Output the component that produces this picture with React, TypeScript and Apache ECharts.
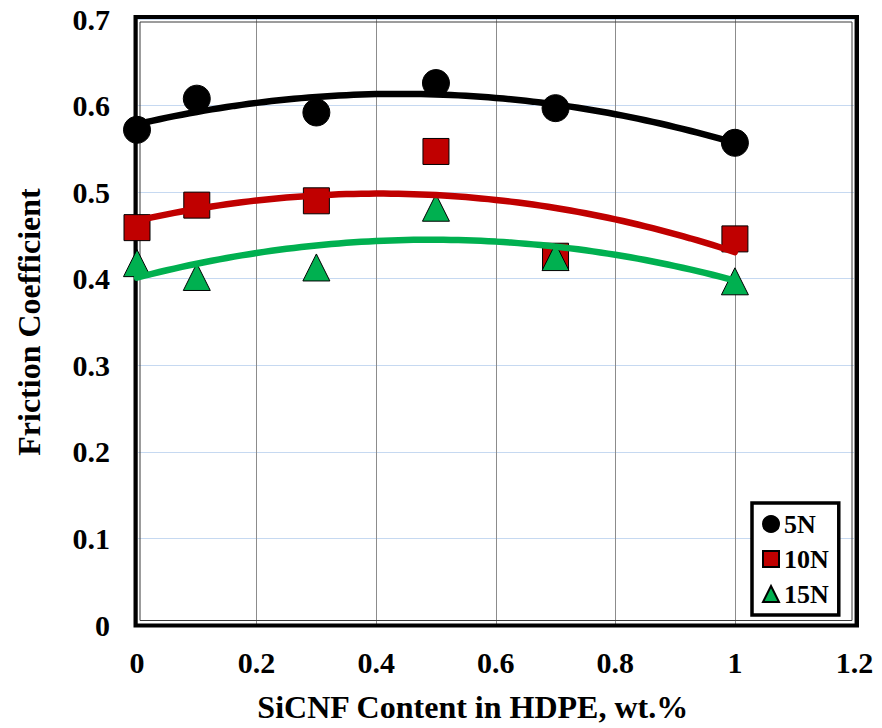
import React, { useEffect, useRef } from "react";
import * as echarts from "echarts";

// SiCNF content (wt.%) and measured friction coefficients per normal load
const xContent = [0, 0.1, 0.3, 0.5, 0.7, 1.0];
const f5N = [0.572, 0.608, 0.592, 0.626, 0.597, 0.557];
const f10N = [0.459, 0.485, 0.49, 0.547, 0.426, 0.446];
const f15N = [0.418, 0.402, 0.413, 0.482, 0.425, 0.397];

const loadNames = ["5N", "10N", "15N"];
const xTicks = { min: 0, max: 1.2, interval: 0.2 };
const yTicks = { min: 0, max: 0.7, interval: 0.1 };

const FONT = "'Liberation Serif', 'Times New Roman', serif";

// Least-squares 2nd-order polynomial trend line (like a spreadsheet trendline)
function quadFit(xs: number[], ys: number[]): [number, number, number] {
  let s0 = 0, s1 = 0, s2 = 0, s3 = 0, s4 = 0, t0 = 0, t1 = 0, t2 = 0;
  for (let i = 0; i < xs.length; i++) {
    const x = xs[i], y = ys[i];
    s0 += 1; s1 += x; s2 += x * x; s3 += x * x * x; s4 += x * x * x * x;
    t0 += y; t1 += x * y; t2 += x * x * y;
  }
  const M = [
    [s0, s1, s2, t0],
    [s1, s2, s3, t1],
    [s2, s3, s4, t2],
  ];
  for (let c = 0; c < 3; c++) {
    let p = c;
    for (let r = c + 1; r < 3; r++) if (Math.abs(M[r][c]) > Math.abs(M[p][c])) p = r;
    [M[c], M[p]] = [M[p], M[c]];
    for (let r = 0; r < 3; r++) {
      if (r === c) continue;
      const f = M[r][c] / M[c][c];
      for (let k = c; k < 4; k++) M[r][k] -= f * M[c][k];
    }
  }
  return [M[0][3] / M[0][0], M[1][3] / M[1][1], M[2][3] / M[2][2]];
}

function trendPoints(xs: number[], ys: number[]): number[][] {
  const [a, b, c] = quadFit(xs, ys);
  const x0 = Math.min(...xs), x1 = Math.max(...xs);
  const pts: number[][] = [];
  const n = 80;
  for (let i = 0; i <= n; i++) {
    const x = x0 + ((x1 - x0) * i) / n;
    pts.push([x, a + b * x + c * x * x]);
  }
  return pts;
}

const pairs = (ys: number[]) => xContent.map((x, i) => [x, ys[i]]);

export default function App() {
  const ref = useRef<HTMLDivElement>(null);

  useEffect(() => {
    if (!ref.current) return;
    const chart = echarts.init(ref.current, null, { renderer: "svg" });

    const groups = [
      { name: loadNames[0], data: f5N, color: "#000000", symbol: "circle", size: 27 },
      { name: loadNames[1], data: f10N, color: "#c00000", symbol: "rect", size: 26 },
      { name: loadNames[2], data: f15N, color: "#00b050", symbol: "triangle", size: 27 },
    ];

    const scatterSeries = groups.map((g) => ({
      type: "scatter",
      name: g.name,
      data: pairs(g.data),
      symbol: g.symbol,
      symbolSize: g.size,
      itemStyle: { color: g.color, borderColor: "#000", borderWidth: 1, opacity: 1 },
      z: 3,
    }));

    const trendSeries = groups.map((g) => ({
      type: "line",
      name: g.name + " trend",
      data: trendPoints(xContent, g.data),
      showSymbol: false,
      smooth: false,
      lineStyle: { color: g.color, width: 6.5, cap: "round" },
      itemStyle: { color: g.color },
      z: 4,
      silent: true,
    }));

    chart.setOption({
      animation: false,
      backgroundColor: "#ffffff",
      grid: { left: 137, right: 27.5, top: 19, bottom: 102, containLabel: false },
      xAxis: {
        type: "value",
        min: xTicks.min,
        max: xTicks.max,
        interval: xTicks.interval,
        name: "SiCNF Content in HDPE, wt.%",
        nameLocation: "middle",
        nameGap: 66,
        nameTextStyle: {
          fontFamily: FONT,
          fontWeight: "bold",
          fontSize: 32,
          color: "#000",
          padding: [0, 46, 0, 0],
        },
        axisLine: { show: false },
        axisTick: { show: false },
        axisLabel: { fontFamily: FONT, fontWeight: "bold", fontSize: 30, color: "#000", margin: 22 },
        splitLine: { show: true, lineStyle: { color: "#8c8c8c", width: 1 } },
      },
      yAxis: {
        type: "value",
        min: yTicks.min,
        max: yTicks.max,
        interval: yTicks.interval,
        name: "Friction Coefficient",
        nameLocation: "middle",
        nameGap: 92,
        nameTextStyle: { fontFamily: FONT, fontWeight: "bold", fontSize: 32, color: "#000" },
        axisLine: { show: false },
        axisTick: { show: false },
        axisLabel: { fontFamily: FONT, fontWeight: "bold", fontSize: 30, color: "#000", margin: 27 },
        splitLine: { show: true, lineStyle: { color: "#c6d9f1", width: 1 } },
      },
      legend: {
        orient: "vertical",
        left: 752,
        top: 503,
        padding: [8, 10, 8, 10],
        itemWidth: 16,
        itemHeight: 16,
        itemGap: 9,
        borderColor: "#000",
        borderWidth: 3.5,
        backgroundColor: "#fff",
        textStyle: { fontFamily: FONT, fontWeight: "bold", fontSize: 26, color: "#000" },
        data: [
          { name: loadNames[0], icon: "circle" },
          { name: loadNames[1], icon: "rect" },
          { name: loadNames[2], icon: "triangle" },
        ],
        z: 10,
      },
      graphic: [
        {
          type: "rect",
          z: 1,
          silent: true,
          shape: { x: 135.5, y: 17, width: 721.5, height: 608.5 },
          style: { fill: "none", stroke: "#000", lineWidth: 4 },
        },
        {
          type: "rect",
          z: 1,
          silent: true,
          shape: { x: 140, y: 22, width: 712, height: 598.5 },
          style: { fill: "none", stroke: "#3a3a3a", lineWidth: 1 },
        },
      ],
      series: [...scatterSeries, ...trendSeries],
    });

    return () => chart.dispose();
  }, []);

  return (
    <div
      ref={ref}
      style={{ position: "fixed", left: 0, top: 0, width: 882, height: 728, background: "#fff" }}
    />
  );
}
